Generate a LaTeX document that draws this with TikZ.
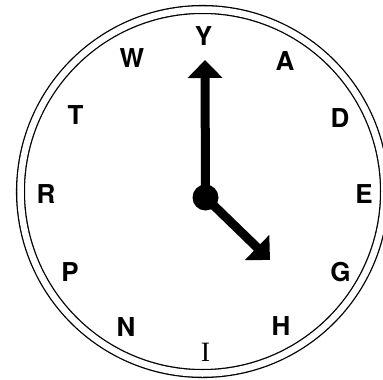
\documentclass[tikz,border=0pt]{standalone}
\usepackage{fontspec}
\setmainfont{TeX Gyre Heros}
\newfontfamily\serifI{Liberation Serif}
\usetikzlibrary{arrows.meta}
\begin{document}
\begin{tikzpicture}[x=1pt,y=-1pt,
  letter/.style={font=\fontsize{26}{26}\selectfont\bfseries, inner sep=0pt, anchor=center},
  hand/.style={line width=9pt, line cap=butt, -{Triangle[length=18pt,width=34pt]}},
  rim/.style={line width=1.3pt, double distance=6.5pt}]
\useasboundingbox (0,0) rectangle (383,380);
\clip (0,0) rectangle (383,380);
\coordinate (cc) at (202.5,191.5);
\draw[rim] (cc) circle (182);
% letters
\node[letter] (Y) at (203.5,36.5) {Y};
\node[letter] (A) at (285,61) {A};
\node[letter] (D) at (340,118) {D};
\node[letter] (E) at (364,194.5) {E};
\node[letter] (G) at (340.5,272) {G};
\node[letter] (H) at (281,326.5) {H};
\node[inner sep=0pt, font=\serifI\fontsize{28}{28}\selectfont] (I) at (205.5,352) {I};
\node[letter] (N) at (126,327.5) {N};
\node[letter] (P) at (70,272.5) {P};
\node[letter] (R) at (46,194.5) {R};
\node[letter] (T) at (75.5,115) {T};
\node[letter] (W) at (132,58) {W};
% hands
\node[circle, fill, minimum size=26pt, inner sep=0pt] (hub) at (205.5,197.5) {};
\coordinate (mtip) at (205,60);
\coordinate (htip) at (270,260);
\draw[hand] (hub.center) -- (mtip);
\draw[hand] (hub.center) -- (htip);
\end{tikzpicture}
\end{document}
